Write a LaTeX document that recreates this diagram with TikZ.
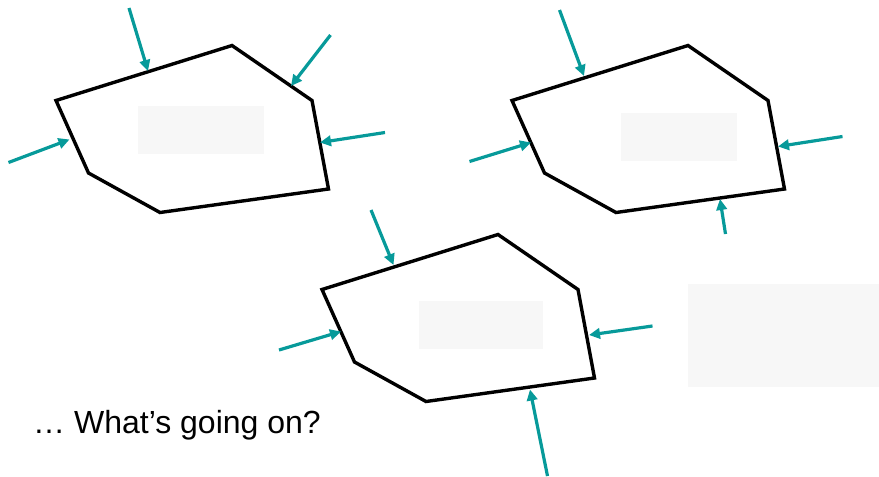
\documentclass[tikz,border=0pt]{standalone}
\usepackage{fontspec}
\setmainfont{Liberation Sans}
\usetikzlibrary{arrows.meta}
\definecolor{tealc}{HTML}{079A9A}
\definecolor{paleg}{HTML}{F7F7F7}
\begin{document}
\begin{tikzpicture}[x=1pt,y=-1pt,
  shapeline/.style={draw=black,line width=3.4pt,line join=miter},
  pushar/.style={draw=tealc,line width=3.2pt,-{Triangle[length=11pt,width=10.5pt]}},
  blank/.style={fill=paleg,draw=none}]
\useasboundingbox (0,0) rectangle (879,477);
% blank boxes
\fill[blank] (138,106) rectangle (264,154);
\fill[blank] (621,113) rectangle (737,161);
\fill[blank] (419,301) rectangle (543,349);
\fill[blank] (688,284) rectangle (879,387);
% polygon 1
\draw[shapeline] (56,100.5) -- (232,45.5) -- (312,100.5) -- (328.5,189) -- (160,212.5) -- (88.5,173) -- cycle;
% polygon 2
\draw[shapeline] (512,100.5) -- (688,45.5) -- (768,100.5) -- (784.5,189) -- (616,212.5) -- (544.5,173) -- cycle;
% polygon 3
\draw[shapeline] (322,289.5) -- (498,234.5) -- (578,289.5) -- (594.5,378) -- (426,401.5) -- (354.5,362) -- cycle;
% arrow coordinates
\coordinate (a1s) at (129,8);     \coordinate (a1t) at (148,71);
\coordinate (b1s) at (330.5,35);  \coordinate (b1t) at (291,86);
\coordinate (c1s) at (385,132.5); \coordinate (c1t) at (320,142.5);
\coordinate (d1s) at (8.5,162.5); \coordinate (d1t) at (69.5,139.5);
\coordinate (a2s) at (559.5,10);  \coordinate (a2t) at (584,76);
\coordinate (d2s) at (469.5,161.5); \coordinate (d2t) at (531,142.5);
\coordinate (c2s) at (842.5,136.5); \coordinate (c2t) at (778,146.5);
\coordinate (e2s) at (725.5,234); \coordinate (e2t) at (720,199);
\coordinate (a3s) at (371,210);   \coordinate (a3t) at (393.5,265);
\coordinate (d3s) at (279,350);   \coordinate (d3t) at (341,331.5);
\coordinate (c3s) at (652.5,326); \coordinate (c3t) at (589,335);
\coordinate (e3s) at (547.5,476); \coordinate (e3t) at (530,389.5);
\foreach \p in {a1,b1,c1,d1,a2,d2,c2,e2,a3,d3,c3,e3}
  \draw[pushar] (\p s) -- (\p t);
\node[anchor=base west,inner sep=0pt,font=\fontsize{32}{38}\selectfont] (q) at (33,433) {… What’s going on?};
\end{tikzpicture}
\end{document}
